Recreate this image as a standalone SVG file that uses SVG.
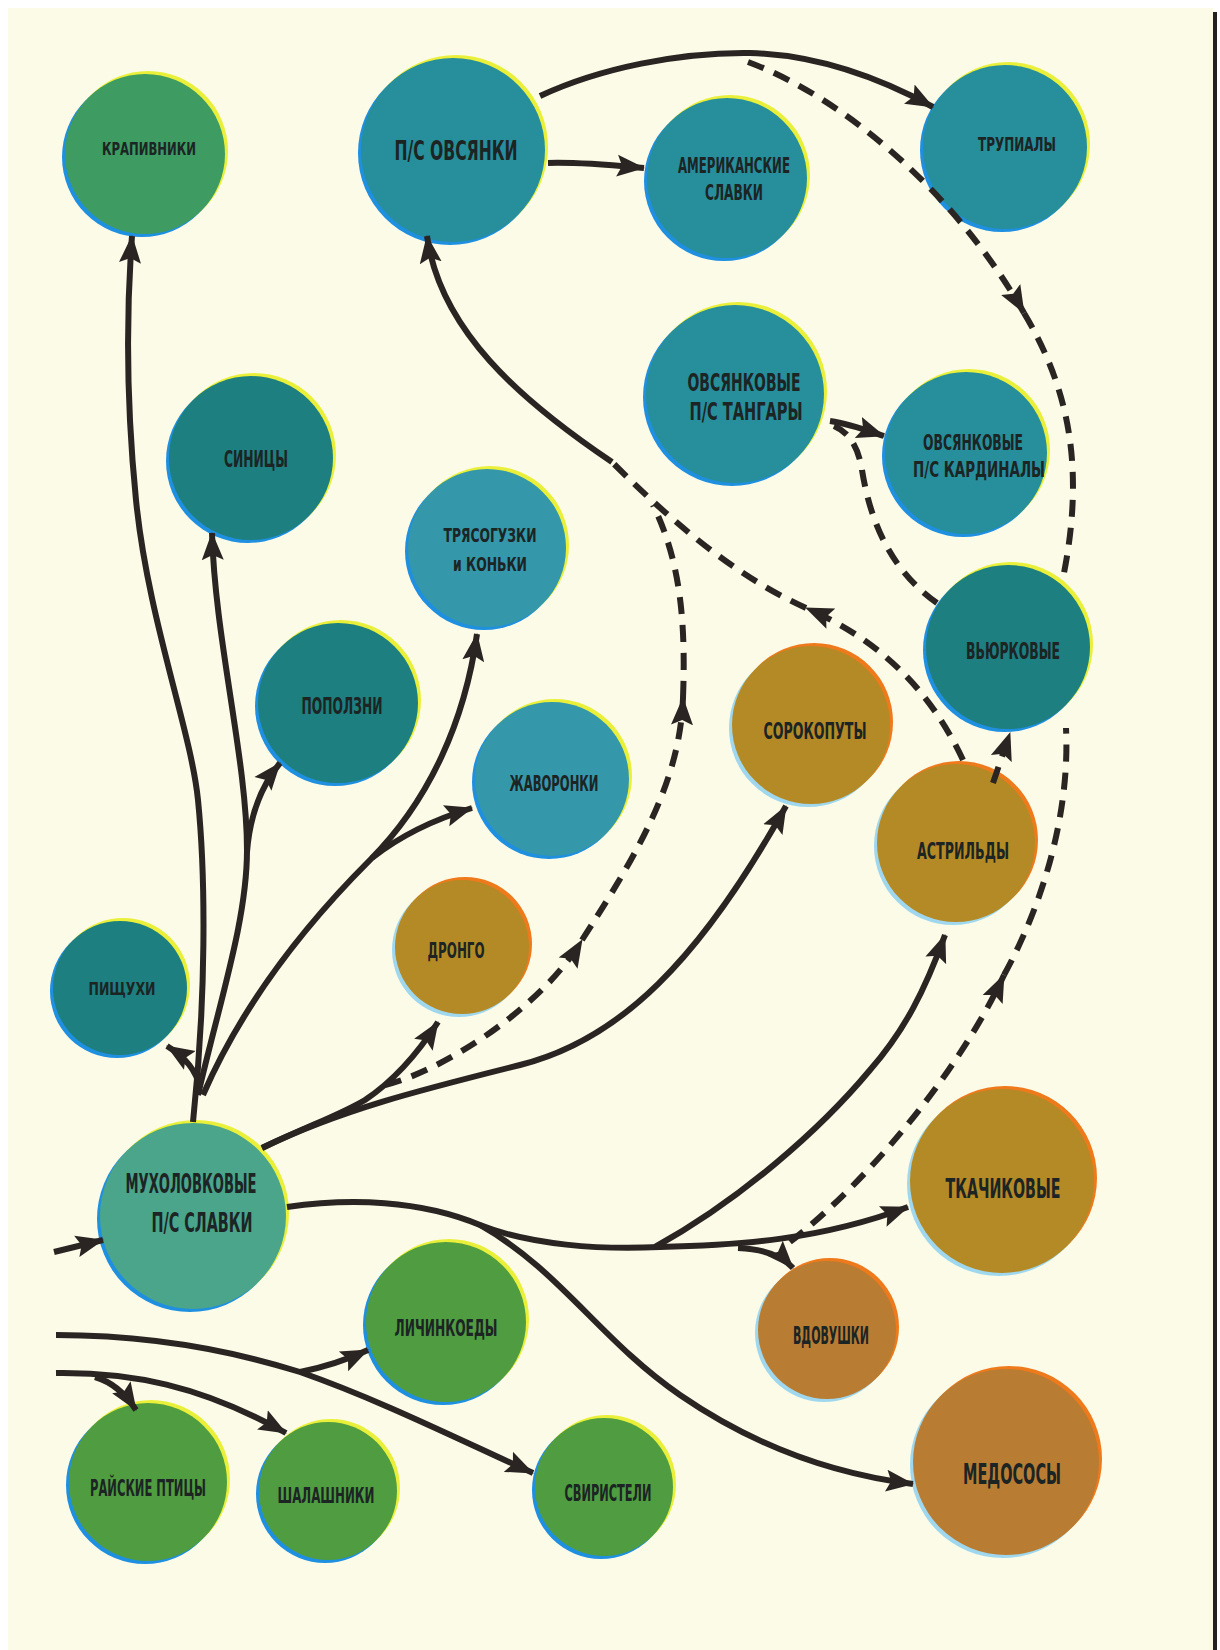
<svg xmlns="http://www.w3.org/2000/svg" width="1220" height="1650" viewBox="0 0 1220 1650">
<defs>
<style>
.ln{fill:none;stroke:#2a2522;stroke-width:6;stroke-linecap:butt}
.ds{fill:none;stroke:#2a2522;stroke-width:6;stroke-dasharray:17 11}
.lbl{font-family:"DejaVu Sans Condensed","Liberation Sans Narrow","Liberation Sans",sans-serif;font-weight:bold;fill:#1c2424;text-anchor:middle}
.fb{fill:#1f8fe0}
.fy{fill:#eaf03a}
.fo{fill:#ee7a1c}
.fl{fill:#9fd8ee}
.green1{fill:#3e9b62}
.teal{fill:#278e9b}
.tealL{fill:#3597aa}
.tealD{fill:#1d7f7f}
.muh{fill:#4aa58b}
.grn{fill:#4f9d40}
.och{fill:#b48a26}
.brn{fill:#b97c33}
</style>
<marker id="ah" markerUnits="userSpaceOnUse" markerWidth="30" markerHeight="24" refX="27" refY="12" orient="auto">
<path d="M0,1 L28,12 L0,23 L5,12 z" fill="#2a2522"/>
</marker>
</defs>
<rect x="0" y="0" width="1220" height="1650" fill="#ffffff"/>
<rect x="8" y="8" width="1205" height="1642" fill="#fcfbe8"/>
<rect x="1213" y="12" width="4" height="1638" fill="#262222"/>

<g id="n-krapivniki"><circle class="fb" cx="142" cy="157" r="80"/><circle class="fy" cx="148" cy="151" r="80"/><circle class="green1" cx="145" cy="154" r="80"/><text class="lbl" x="149" y="154.5" font-size="18" textLength="94" lengthAdjust="spacingAndGlyphs">КРАПИВНИКИ</text></g>
<g id="n-ovsyanki"><circle class="fb" cx="450" cy="153" r="92"/><circle class="fy" cx="456" cy="147" r="92"/><circle class="teal" cx="453" cy="150" r="92"/><text class="lbl" x="456" y="160" font-size="27" textLength="123" lengthAdjust="spacingAndGlyphs">П/С ОВСЯНКИ</text></g>
<g id="n-amerikanskie"><circle class="fb" cx="724" cy="181" r="80"/><circle class="fy" cx="730" cy="175" r="80"/><circle class="teal" cx="727" cy="178" r="80"/><text class="lbl" x="734" y="173" font-size="21" textLength="112" lengthAdjust="spacingAndGlyphs">АМЕРИКАНСКИЕ</text><text class="lbl" x="734" y="200" font-size="21" textLength="58" lengthAdjust="spacingAndGlyphs">СЛАВКИ</text></g>
<g id="n-trupialy"><circle class="fb" cx="1002" cy="150" r="82"/><circle class="fy" cx="1008" cy="144" r="82"/><circle class="teal" cx="1005" cy="147" r="82"/><text class="lbl" x="1017" y="150.5" font-size="20" textLength="78" lengthAdjust="spacingAndGlyphs">ТРУПИАЛЫ</text></g>
<g id="n-tangary"><circle class="fb" cx="732" cy="397" r="89"/><circle class="fy" cx="738" cy="391" r="89"/><circle class="teal" cx="735" cy="394" r="89"/><text class="lbl" x="744" y="391" font-size="24" textLength="113" lengthAdjust="spacingAndGlyphs">ОВСЯНКОВЫЕ</text><text class="lbl" x="746" y="420" font-size="24" textLength="113" lengthAdjust="spacingAndGlyphs">П/С ТАНГАРЫ</text></g>
<g id="n-kardinaly"><circle class="fb" cx="963" cy="456" r="81"/><circle class="fy" cx="969" cy="450" r="81"/><circle class="teal" cx="966" cy="453" r="81"/><text class="lbl" x="973" y="449.5" font-size="22" textLength="100" lengthAdjust="spacingAndGlyphs">ОВСЯНКОВЫЕ</text><text class="lbl" x="979" y="477" font-size="22" textLength="132" lengthAdjust="spacingAndGlyphs">П/С КАРДИНАЛЫ</text></g>
<g id="n-sinicy"><circle class="fb" cx="248" cy="461" r="82"/><circle class="fy" cx="254" cy="455" r="82"/><circle class="tealD" cx="251" cy="458" r="82"/><text class="lbl" x="256" y="466.5" font-size="23" textLength="64" lengthAdjust="spacingAndGlyphs">СИНИЦЫ</text></g>
<g id="n-tryasoguzki"><circle class="fb" cx="484" cy="551" r="79"/><circle class="fy" cx="490" cy="545" r="79"/><circle class="tealL" cx="487" cy="548" r="79"/><text class="lbl" x="490" y="542" font-size="20" textLength="93" lengthAdjust="spacingAndGlyphs">ТРЯСОГУЗКИ</text><text class="lbl" x="490" y="571" font-size="20" textLength="74" lengthAdjust="spacingAndGlyphs">и КОНЬКИ</text></g>
<g id="n-popolzni"><circle class="fb" cx="335" cy="706" r="80"/><circle class="fy" cx="341" cy="700" r="80"/><circle class="tealD" cx="338" cy="703" r="80"/><text class="lbl" x="342" y="713.5" font-size="23" textLength="81" lengthAdjust="spacingAndGlyphs">ПОПОЛЗНИ</text></g>
<g id="n-zhavoronki"><circle class="fb" cx="549" cy="782" r="77"/><circle class="fy" cx="555" cy="776" r="77"/><circle class="tealL" cx="552" cy="779" r="77"/><text class="lbl" x="554" y="790.5" font-size="21" textLength="89" lengthAdjust="spacingAndGlyphs">ЖАВОРОНКИ</text></g>
<g id="n-vyurkovye"><circle class="fb" cx="1005" cy="650" r="82"/><circle class="fy" cx="1011" cy="644" r="82"/><circle class="tealD" cx="1008" cy="647" r="82"/><text class="lbl" x="1013" y="658.5" font-size="23" textLength="94" lengthAdjust="spacingAndGlyphs">ВЬЮРКОВЫЕ</text></g>
<g id="n-sorokoputy"><circle class="fl" cx="808" cy="728" r="79"/><circle class="fo" cx="814" cy="722" r="79"/><circle class="och" cx="811" cy="725" r="79"/><text class="lbl" x="815" y="738.5" font-size="23" textLength="103" lengthAdjust="spacingAndGlyphs">СОРОКОПУТЫ</text></g>
<g id="n-astrildy"><circle class="fl" cx="953" cy="846" r="79"/><circle class="fo" cx="959" cy="840" r="79"/><circle class="och" cx="956" cy="843" r="79"/><text class="lbl" x="963" y="858.5" font-size="23" textLength="92" lengthAdjust="spacingAndGlyphs">АСТРИЛЬДЫ</text></g>
<g id="n-pischuhi"><circle class="fb" cx="117" cy="991" r="67"/><circle class="fy" cx="123" cy="985" r="67"/><circle class="tealD" cx="120" cy="988" r="67"/><text class="lbl" x="122" y="994.5" font-size="18" textLength="67" lengthAdjust="spacingAndGlyphs">ПИЩУХИ</text></g>
<g id="n-drongo"><circle class="fl" cx="459" cy="950" r="67"/><circle class="fo" cx="465" cy="944" r="67"/><circle class="och" cx="462" cy="947" r="67"/><text class="lbl" x="456" y="957.5" font-size="21" textLength="57" lengthAdjust="spacingAndGlyphs">ДРОНГО</text></g>
<g id="n-muholovkovye"><circle class="fb" cx="190" cy="1219" r="93"/><circle class="fy" cx="196" cy="1213" r="93"/><circle class="muh" cx="193" cy="1216" r="93"/><text class="lbl" x="191" y="1193" font-size="27" textLength="131" lengthAdjust="spacingAndGlyphs">МУХОЛОВКОВЫЕ</text><text class="lbl" x="202" y="1232" font-size="27" textLength="101" lengthAdjust="spacingAndGlyphs">П/С СЛАВКИ</text></g>
<g id="n-tkachikovye"><circle class="fl" cx="999" cy="1184" r="92"/><circle class="fo" cx="1005" cy="1178" r="92"/><circle class="och" cx="1002" cy="1181" r="92"/><text class="lbl" x="1003" y="1198" font-size="27" textLength="115" lengthAdjust="spacingAndGlyphs">ТКАЧИКОВЫЕ</text></g>
<g id="n-vdovushki"><circle class="fl" cx="824" cy="1333" r="69"/><circle class="fo" cx="830" cy="1327" r="69"/><circle class="brn" cx="827" cy="1330" r="69"/><text class="lbl" x="831" y="1344" font-size="24" textLength="76" lengthAdjust="spacingAndGlyphs">ВДОВУШКИ</text></g>
<g id="n-medososy"><circle class="fl" cx="1003" cy="1465" r="93"/><circle class="fo" cx="1009" cy="1459" r="93"/><circle class="brn" cx="1006" cy="1462" r="93"/><text class="lbl" x="1012" y="1483.5" font-size="28" textLength="98" lengthAdjust="spacingAndGlyphs">МЕДОСОСЫ</text></g>
<g id="n-lichinkoedy"><circle class="fb" cx="443" cy="1325" r="80"/><circle class="fy" cx="449" cy="1319" r="80"/><circle class="grn" cx="446" cy="1322" r="80"/><text class="lbl" x="446" y="1335.5" font-size="23" textLength="103" lengthAdjust="spacingAndGlyphs">ЛИЧИНКОЕДЫ</text></g>
<g id="n-rayskie"><circle class="fb" cx="145" cy="1485" r="79"/><circle class="fy" cx="151" cy="1479" r="79"/><circle class="grn" cx="148" cy="1482" r="79"/><text class="lbl" x="148" y="1495.5" font-size="23" textLength="116" lengthAdjust="spacingAndGlyphs">РАЙСКИЕ ПТИЦЫ</text></g>
<g id="n-shalashniki"><circle class="fb" cx="325" cy="1494" r="69"/><circle class="fy" cx="331" cy="1488" r="69"/><circle class="grn" cx="328" cy="1491" r="69"/><text class="lbl" x="326" y="1502.5" font-size="21" textLength="97" lengthAdjust="spacingAndGlyphs">ШАЛАШНИКИ</text></g>
<g id="n-sviristeli"><circle class="fb" cx="601" cy="1490" r="69"/><circle class="fy" cx="607" cy="1484" r="69"/><circle class="grn" cx="604" cy="1487" r="69"/><text class="lbl" x="608" y="1500.5" font-size="23" textLength="87" lengthAdjust="spacingAndGlyphs">СВИРИСТЕЛИ</text></g>

<g id="connectors">
<path class="ln" d="M200,1088 C196,1070 186,1058 167,1046" marker-end="url(#ah)"/>
<path class="ln" d="M193,1122 C206,1000 206,880 198,800 C191,730 148,620 136,500 C128,420 125,330 132,236" marker-end="url(#ah)"/>
<path class="ln" d="M198,1095 C220,1000 247,920 247,850 C247,760 215,640 212,533" marker-end="url(#ah)"/>
<path class="ln" d="M247,852 C250,812 262,785 280,763" marker-end="url(#ah)"/>
<path class="ln" d="M203,1095 C240,1010 300,930 370,860 C430,800 465,720 477,634" marker-end="url(#ah)"/>
<path class="ln" d="M372,858 C400,836 432,820 472,808" marker-end="url(#ah)"/>
<path class="ln" d="M262,1148 C310,1125 340,1115 365,1100 C395,1080 420,1050 438,1022" marker-end="url(#ah)"/>
<path class="ln" d="M262,1148 C340,1110 420,1090 520,1065 C620,1040 700,960 786,806" marker-end="url(#ah)"/>
<path class="ds" d="M385,1085 C440,1072 540,1010 582,940" marker-end="url(#ah)"/>
<path class="ds" d="M582,940 C640,850 680,780 683,698" marker-end="url(#ah)"/>
<path class="ds" d="M683,698 C686,620 680,560 653,505"/>
<path class="ln" d="M612,462 C520,400 440,330 427,236" marker-end="url(#ah)"/>
<path class="ds" d="M963,760 C930,690 880,640 806,608" marker-end="url(#ah)"/>
<path class="ds" d="M806,608 C740,578 680,530 612,462"/>
<path class="ln" d="M548,163 C580,162 610,165 644,168" marker-end="url(#ah)"/>
<path class="ln" d="M540,96 C600,68 680,52 750,53 C820,55 880,78 933,107" marker-end="url(#ah)"/>
<path class="ds" d="M748,62 C850,100 960,200 1024,313" marker-end="url(#ah)"/>
<path class="ds" d="M1024,313 C1070,390 1085,470 1063,578"/>
<path class="ln" d="M830,421 C850,424 866,430 884,436" marker-end="url(#ah)"/>
<path class="ds" d="M937,603 C890,570 870,520 862,470 C858,445 848,432 834,426"/>
<path class="ds" d="M993,783 L1010,733" marker-end="url(#ah)"/>
<path class="ds" d="M790,1242 C870,1180 960,1070 1004,975" marker-end="url(#ah)"/>
<path class="ds" d="M1004,975 C1045,900 1070,810 1066,728"/>
<path class="ln" d="M287,1207 C350,1198 420,1200 480,1225 C530,1245 600,1250 660,1247 C740,1245 820,1240 908,1207" marker-end="url(#ah)"/>
<path class="ln" d="M655,1247 C740,1200 820,1130 870,1070 C905,1030 925,990 945,935" marker-end="url(#ah)"/>
<path class="ln" d="M738,1248 C762,1249 781,1255 793,1268" marker-end="url(#ah)"/>
<path class="ln" d="M480,1225 C560,1270 600,1340 680,1395 C760,1450 840,1475 913,1484" marker-end="url(#ah)"/>
<path class="ln" d="M54,1252 L103,1240" marker-end="url(#ah)"/>
<path class="ln" d="M56,1335 C150,1335 230,1350 300,1372 C380,1400 460,1440 533,1473" marker-end="url(#ah)"/>
<path class="ln" d="M300,1372 C320,1368 340,1363 368,1350" marker-end="url(#ah)"/>
<path class="ln" d="M56,1373 C130,1372 200,1385 286,1433" marker-end="url(#ah)"/>
<path class="ln" d="M95,1377 C112,1382 125,1393 136,1410" marker-end="url(#ah)"/>
</g>
</svg>
